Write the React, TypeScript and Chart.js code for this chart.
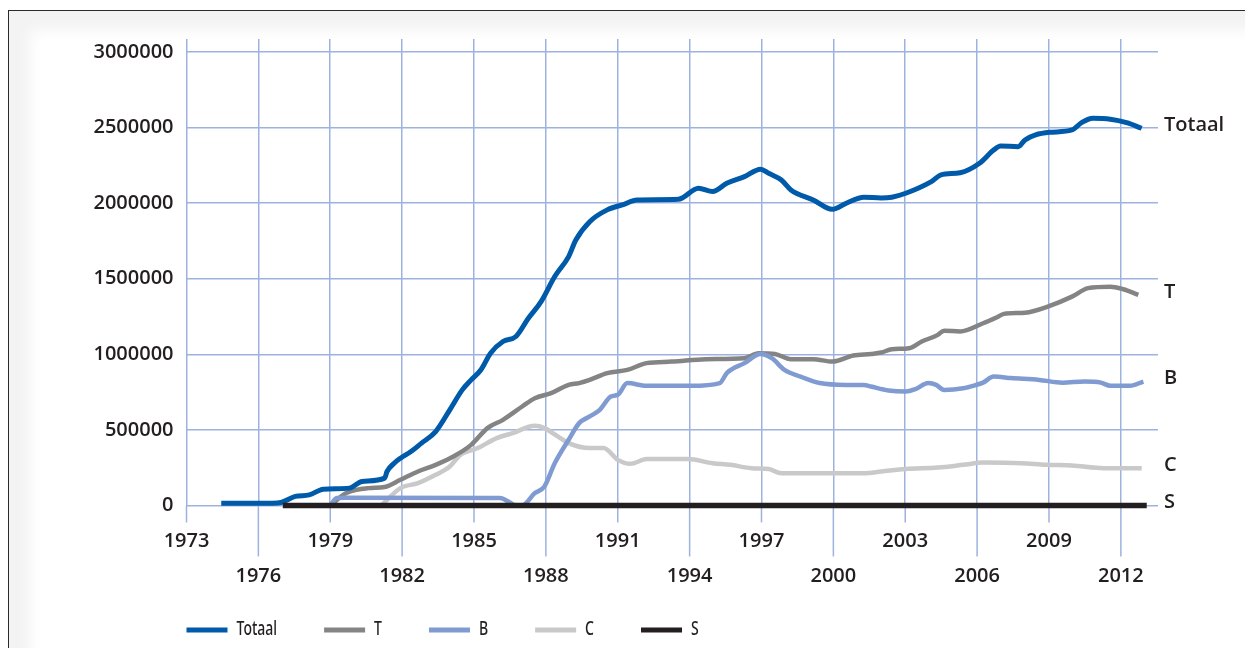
import React, { useEffect, useRef } from 'react';
import { Chart, registerables } from 'chart.js';

Chart.register(...registerables);

// ---- data ----
const seriesNames = ['Totaal', 'T', 'B', 'C', 'S'];
const seriesColors = ['#005aaa', '#848484', '#7f9bd2', '#c9c9c9', '#231f20'];
const xTickYears = [1973, 1976, 1979, 1982, 1985, 1988, 1991, 1994, 1997, 2000, 2003, 2006, 2009, 2012];
const yTickValues = [0, 500000, 1000000, 1500000, 2000000, 2500000, 3000000];

const totaal: [number, number][] = [
  [1974.45, 15000], [1976.58, 15000], [1976.95, 20000], [1977.54, 60000], [1978.12, 70000],
  [1978.71, 108000], [1979.8, 115000], [1980.33, 159000], [1981.27, 181000], [1981.37, 225000],
  [1981.67, 280000], [1981.93, 313000], [1982.37, 357000], [1982.81, 413000], [1983.4, 489000],
  [1983.99, 633000], [1984.51, 765000], [1984.88, 831000], [1985.29, 898000], [1985.69, 1008000],
  [1986.21, 1085000], [1986.75, 1118000], [1987.27, 1239000], [1987.8, 1349000], [1988.37, 1515000],
  [1988.95, 1647000], [1989.25, 1757000], [1989.83, 1878000], [1990.56, 1956000], [1991.26, 1993000],
  [1991.8, 2022000], [1993.53, 2026000], [1994.37, 2099000], [1994.96, 2077000], [1995.55, 2132000],
  [1996.29, 2176000], [1996.96, 2225000], [1997.3, 2198000], [1997.83, 2154000], [1998.23, 2088000],
  [1999.16, 2022000], [1999.96, 1960000], [2000.54, 2000000], [2001.27, 2040000], [2002.0, 2035000],
  [2002.44, 2040000], [2003.02, 2066000], [2004.09, 2143000], [2004.49, 2187000], [2005.29, 2202000],
  [2006.1, 2265000], [2006.69, 2352000], [2006.98, 2379000], [2007.71, 2374000], [2008.0, 2419000],
  [2008.44, 2452000], [2009.03, 2469000], [2009.96, 2485000], [2010.36, 2533000], [2010.83, 2562000],
  [2011.56, 2556000], [2012.24, 2533000], [2012.87, 2496000],
];

const seriesT: [number, number][] = [
  [1979.0, 0], [1979.67, 82000], [1980.6, 115000], [1981.27, 122000], [1981.93, 170000],
  [1982.66, 225000], [1983.4, 269000], [1984.14, 324000], [1984.88, 401000], [1985.56, 512000],
  [1986.21, 567000], [1987.01, 655000], [1987.54, 710000], [1988.22, 743000], [1988.95, 798000],
  [1989.39, 810000], [1989.83, 831000], [1990.56, 876000], [1991.4, 897000], [1992.2, 942000],
  [1993.26, 952000], [1994.67, 968000], [1996.29, 975000], [1996.88, 1008000], [1997.56, 1003000],
  [1998.23, 968000], [1999.16, 968000], [1999.96, 952000], [2000.83, 992000], [2001.57, 1003000],
  [2002.0, 1012000], [2002.44, 1034000], [2003.16, 1041000], [2003.69, 1085000], [2004.36, 1129000],
  [2004.62, 1157000], [2005.29, 1151000], [2006.25, 1206000], [2006.83, 1246000], [2007.12, 1268000],
  [2008.0, 1276000], [2009.03, 1321000], [2009.96, 1382000], [2010.63, 1438000], [2011.56, 1448000],
  [2012.1, 1431000], [2012.73, 1394000],
];

const seriesB: [number, number][] = [
  [1979.0, 0], [1979.27, 50000], [1979.67, 52000], [1986.08, 50000], [1986.5, 20000],
  [1986.75, 0], [1987.0, 0], [1987.54, 82000], [1987.94, 126000], [1988.37, 280000],
  [1988.95, 435000], [1989.39, 545000], [1989.83, 589000], [1990.25, 633000], [1990.71, 721000],
  [1991.0, 732000], [1991.4, 810000], [1992.2, 792000], [1994.07, 792000], [1995.26, 810000],
  [1995.55, 876000], [1996.29, 942000], [1996.96, 1003000], [1997.43, 975000], [1997.96, 897000],
  [1998.63, 853000], [1999.43, 810000], [2000.54, 798000], [2001.27, 798000], [2001.57, 787000],
  [2002.3, 761000], [2003.02, 754000], [2003.42, 770000], [2003.96, 810000], [2004.29, 798000],
  [2004.62, 765000], [2005.42, 776000], [2005.96, 798000], [2006.25, 813000], [2006.69, 853000],
  [2007.42, 843000], [2008.59, 831000], [2009.56, 813000], [2010.49, 820000], [2011.16, 813000],
  [2011.56, 792000], [2012.38, 792000], [2012.94, 820000],
];

const seriesC: [number, number][] = [
  [1981.13, 0], [1981.93, 115000], [1982.66, 148000], [1983.4, 203000], [1983.99, 258000],
  [1984.43, 335000], [1985.16, 380000], [1985.95, 446000], [1986.61, 479000], [1987.54, 527000],
  [1987.94, 512000], [1988.51, 456000], [1988.95, 413000], [1989.83, 380000], [1990.41, 380000],
  [1991.0, 302000], [1991.53, 276000], [1992.2, 307000], [1993.93, 307000], [1994.96, 280000],
  [1995.7, 269000], [1996.59, 247000], [1997.3, 241000], [1997.83, 214000], [2001.27, 214000],
  [2002.0, 225000], [2003.02, 241000], [2004.36, 251000], [2005.42, 269000], [2006.25, 284000],
  [2007.86, 280000], [2008.88, 269000], [2009.96, 265000], [2011.29, 247000], [2012.87, 247000],
];

const seriesS: [number, number][] = [
  [1977.02, 0], [2013.08, 0],
];

const allSeries = [totaal, seriesT, seriesB, seriesC, seriesS];
const drawOrder = [1, 3, 2, 4, 0]; // lower = drawn on top

// ---- styles ----
const GRID = '#9db2de';
const TEXT = '#231f20';
const TICK_FONT = '"Open Sans", "Noto Sans", sans-serif';
const LEGEND_FONT = '500 20px "Noto Sans", "Open Sans", sans-serif';
const LEGEND_SQUEEZE = 0.7;

const tickExtPlugin = {
  id: 'tickExt',
  beforeDatasetsDraw(chart: any) {
    const { ctx, chartArea, scales } = chart;
    const x = scales.x;
    ctx.save();
    ctx.strokeStyle = GRID;
    ctx.lineWidth = 1.5;
    x.ticks.forEach((t: any, i: number) => {
      const px = x.getPixelForValue(t.value);
      const len = i % 2 === 0 ? 17 : 51;
      ctx.beginPath();
      ctx.moveTo(px, chartArea.bottom);
      ctx.lineTo(px, chartArea.bottom + len);
      ctx.stroke();
    });
    ctx.restore();
  },
};

const endLabelPlugin = {
  id: 'endLabels',
  afterDatasetsDraw(chart: any) {
    const { ctx, chartArea } = chart;
    ctx.save();
    ctx.font = `600 20px ${TICK_FONT}`;
    ctx.fillStyle = TEXT;
    ctx.textBaseline = 'middle';
    ctx.textAlign = 'left';
    chart.data.datasets.forEach((ds: any, i: number) => {
      const meta = chart.getDatasetMeta(i);
      const last = meta.data[meta.data.length - 1];
      if (last) ctx.fillText(ds.label, chartArea.right + 6, last.y - 3);
    });
    ctx.restore();
  },
};

const legendPlugin = {
  id: 'customLegend',
  afterDraw(chart: any) {
    const { ctx, chartArea } = chart;
    const y = chart.height - 18;
    let x = chartArea.left;
    ctx.save();
    ctx.font = LEGEND_FONT;
    ctx.textBaseline = 'middle';
    ctx.textAlign = 'left';
    chart.data.datasets.forEach((ds: any) => {
      ctx.fillStyle = ds.borderColor;
      ctx.fillRect(x, y - 2.5, 41, 5);
      ctx.fillStyle = TEXT;
      const tx = x + 50;
      ctx.save();
      ctx.translate(tx, y - 1);
      ctx.scale(LEGEND_SQUEEZE, 1);
      ctx.fillText(ds.label, 0, 0);
      ctx.restore();
      x += 50 + ctx.measureText(ds.label).width * LEGEND_SQUEEZE + 47;
    });
    ctx.restore();
  },
};

export default function App() {
  const canvasRef = useRef<HTMLCanvasElement | null>(null);

  useEffect(() => {
    if (!canvasRef.current) return;
    const chart = new Chart(canvasRef.current, {
      type: 'line',
      data: {
        datasets: seriesNames.map((name, i) => ({
          label: name,
          data: allSeries[i].map(([x, y]) => ({ x, y })),
          borderColor: seriesColors[i],
          backgroundColor: seriesColors[i],
          borderWidth: i === 4 ? 5.5 : i === 0 ? 5 : 4.5,
          pointRadius: 0,
          fill: false,
          clip: false,
          cubicInterpolationMode: 'monotone',
          borderCapStyle: 'butt',
          borderJoinStyle: 'round',
          order: drawOrder[i],
        })) as any,
      },
      options: {
        animation: false,
        responsive: false,
        devicePixelRatio: 1,
        events: [],
        layout: { padding: { left: 0, top: 39, right: 87, bottom: 54 } },
        plugins: { legend: { display: false }, tooltip: { enabled: false } },
        scales: {
          x: {
            type: 'linear',
            min: 1973,
            max: 2013.55,
            border: { display: false },
            grid: { color: GRID, lineWidth: 1.5, drawTicks: false },
            afterBuildTicks: (s: any) => { s.ticks = xTickYears.map((v) => ({ value: v })); },
            afterFit: (s: any) => { s.height = 88.5; },
            ticks: {
              autoSkip: false,
              maxRotation: 0,
              minRotation: 0,
              padding: 18.5,
              color: TEXT,
              font: { family: TICK_FONT, size: 20, weight: '600', lineHeight: '35px' } as any,
              callback: (v: any, i: number) => (i % 2 === 0 ? String(v) : ['', String(v)]),
            },
          },
          y: {
            type: 'linear',
            min: 0,
            max: 3086600,
            border: { display: false },
            grid: { color: GRID, lineWidth: 1.5, drawTicks: false },
            afterBuildTicks: (s: any) => { s.ticks = yTickValues.map((v) => ({ value: v })); },
            afterFit: (s: any) => { s.width = 186.5; },
            ticks: {
              padding: 13,
              color: TEXT,
              font: { family: TICK_FONT, size: 20, weight: '600' } as any,
              callback: (v: any) => String(v),
            },
          },
        },
      } as any,
      plugins: [tickExtPlugin, endLabelPlugin, legendPlugin],
    });
    return () => chart.destroy();
  }, []);

  return (
    <div style={{ position: 'fixed', left: 0, top: 0, width: 1245, height: 648, background: '#fff', overflow: 'hidden' }}>
      <div style={{ position: 'absolute', left: 8, top: 10, width: 1400, height: 800, border: '1px solid #2a2a2a', background: '#f3f3f3' }} />
      <div style={{ position: 'absolute', left: 40, top: 40, width: 1400, height: 800, background: '#fff', boxShadow: '0 0 14px 10px #fff' }} />
      <canvas ref={canvasRef} width={1245} height={648} style={{ position: 'absolute', left: 0, top: 0, width: 1245, height: 648 }} />
    </div>
  );
}
